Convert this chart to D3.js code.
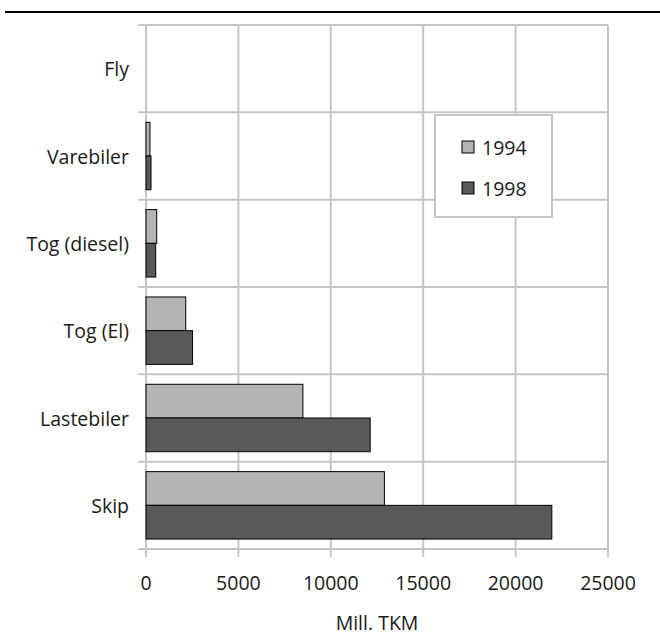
<!DOCTYPE html>
<html>
<head>
<meta charset="utf-8">
<script src="https://cdn.jsdelivr.net/npm/d3@7"></script>
<style>
  html, body { margin: 0; padding: 0; background: #fff; }
  svg { display: block; font-family: "Open Sans", "Noto Sans", sans-serif; }
</style>
</head>
<body>
<svg id="chart" width="660" height="634"></svg>
<script>
// Transport work by mode, million tonne-km
const categories = ["Fly", "Varebiler", "Tog (diesel)", "Tog (El)", "Lastebiler", "Skip"];
const series = ["1994", "1998"];
const values1994 = [0, 215, 580, 2150, 8490, 12900];
const values1998 = [0, 270, 525, 2520, 12130, 21960];
const xTicks = [0, 5000, 10000, 15000, 20000, 25000];
const axisTitle = "Mill. TKM";

const colors = { "1994": "#b4b4b4", "1998": "#595959" };
const gridColor = "#c6c6c6";
const textColor = "#1a1a1a";
const fontSize = 19.5;

const svg = d3.select("#chart");
const plot = { left: 146, right: 608, top: 25, bottom: 549 };

const x = d3.scaleLinear().domain([0, 25000]).range([plot.left, plot.right]);
const y = d3.scaleBand().domain(categories).range([plot.top, plot.bottom])
  .paddingInner(0.228).paddingOuter(0.114);
const ySub = d3.scaleBand().domain(series).range([0, y.bandwidth()]);

// rule across the top of the page
svg.append("line")
  .attr("x1", 5).attr("x2", 660).attr("y1", 12).attr("y2", 12)
  .attr("stroke", "#000").attr("stroke-width", 2);

// horizontal grid lines at category boundaries, with outside ticks
const step = y.step();
const boundaries = d3.range(categories.length + 1).map(i => plot.top + i * step);
svg.append("g").selectAll("line").data(boundaries).join("line")
  .attr("x1", plot.left - 8).attr("x2", plot.right)
  .attr("y1", d => d).attr("y2", d => d)
  .attr("stroke", gridColor).attr("stroke-width", 2);

// vertical grid lines at value ticks, extended below as ticks
svg.append("g").selectAll("line").data(xTicks).join("line")
  .attr("x1", d => x(d)).attr("x2", d => x(d))
  .attr("y1", plot.top).attr("y2", plot.bottom + 8)
  .attr("stroke", gridColor).attr("stroke-width", 2);

// bars
const rows = categories.map((c, i) => ({ cat: c, "1994": values1994[i], "1998": values1998[i] }));
const groups = svg.append("g").selectAll("g").data(rows).join("g")
  .attr("transform", d => `translate(0,${y(d.cat)})`);
groups.selectAll("rect")
  .data(d => series.map(s => ({ s, v: d[s] })).filter(e => e.v > 0))
  .join("rect")
  .attr("x", x(0))
  .attr("y", d => ySub(d.s))
  .attr("width", d => x(d.v) - x(0))
  .attr("height", ySub.bandwidth())
  .attr("fill", d => colors[d.s])
  .attr("stroke", "#000").attr("stroke-width", 1);

// category labels
svg.append("g").selectAll("text").data(categories).join("text")
  .attr("x", plot.left - 17)
  .attr("y", d => y(d) + y.bandwidth() / 2)
  .attr("text-anchor", "end").attr("dominant-baseline", "central")
  .attr("font-size", fontSize).attr("fill", textColor)
  .text(d => d);

// value tick labels
svg.append("g").selectAll("text").data(xTicks).join("text")
  .attr("x", d => x(d)).attr("y", 582)
  .attr("text-anchor", "middle").attr("dominant-baseline", "central")
  .attr("font-size", fontSize).attr("fill", textColor)
  .text(d => d);

svg.append("text")
  .attr("x", (plot.left + plot.right) / 2).attr("y", 622)
  .attr("text-anchor", "middle").attr("dominant-baseline", "central")
  .attr("font-size", fontSize).attr("fill", textColor)
  .text(axisTitle);

// legend
const legend = svg.append("g").attr("transform", "translate(435,115)");
legend.append("rect").attr("width", 117).attr("height", 102)
  .attr("fill", "#fff").attr("stroke", gridColor).attr("stroke-width", 2);
const items = legend.selectAll("g").data(series).join("g")
  .attr("transform", (d, i) => `translate(27,${26 + i * 41})`);
items.append("rect").attr("width", 12).attr("height", 12)
  .attr("fill", d => colors[d]).attr("stroke", "#000").attr("stroke-width", 1);
items.append("text").attr("x", 20).attr("y", 6)
  .attr("dominant-baseline", "central")
  .attr("font-size", fontSize).attr("fill", textColor)
  .text(d => d);
</script>
</body>
</html>
